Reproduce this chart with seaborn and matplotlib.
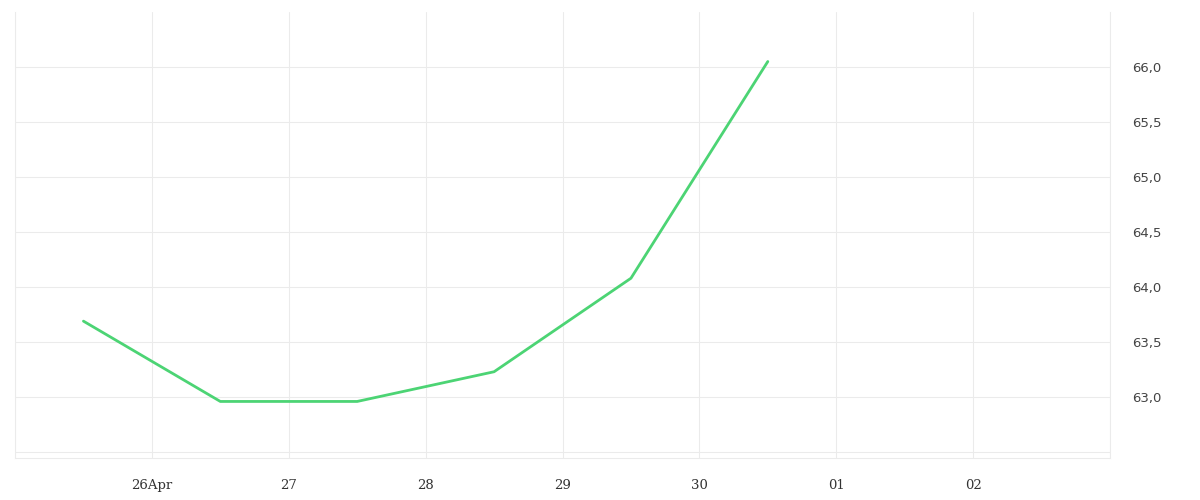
"""Линейный график значения по дням (конец апреля)."""

import pandas as pd
import matplotlib.pyplot as plt
import matplotlib.dates as mdates
from matplotlib.ticker import FixedLocator, FuncFormatter
import seaborn as sns


# ====== Данные ======
TIMES = ["2024-04-25 12:00", "2024-04-26 12:00", "2024-04-27 12:00",
         "2024-04-28 12:00", "2024-04-29 12:00", "2024-04-30 12:00"]
VALUES = [63.69, 62.96, 62.96, 63.23, 64.08, 66.05]

Y_TICKS = [62.5, 63.0, 63.5, 64.0, 64.5, 65.0, 65.5, 66.0]
LINE_COLOR = "#4cd474"
GRID_COLOR = "#ebebeb"


def x_label(value, pos):
    d = mdates.num2date(value)
    if d.day in (25, 3):
        return ""
    if d.day == 26:
        return "26Apr"
    return d.strftime("%d")


def y_label(value, pos):
    if value < 62.9:
        return ""
    return f"{value:.1f}".replace(".", ",")


def main():
    sns.set_theme(style="white")
    plt.rcParams["font.family"] = ["DejaVu Sans"]
    df = pd.DataFrame({"time": pd.to_datetime(TIMES), "value": VALUES})

    fig = plt.figure(figsize=(12, 5), dpi=100)
    ax = fig.add_axes([0.0125, 0.084, 0.9125, 0.892])

    sns.lineplot(data=df, x="time", y="value", ax=ax,
                 color=LINE_COLOR, linewidth=2)

    ax.set_xlim(pd.Timestamp("2024-04-25"), pd.Timestamp("2024-05-03"))
    ax.set_ylim(62.446, 66.5)

    ax.xaxis.set_major_locator(mdates.DayLocator())
    ax.xaxis.set_major_formatter(FuncFormatter(x_label))
    ax.yaxis.set_major_locator(FixedLocator(Y_TICKS))
    ax.yaxis.set_major_formatter(FuncFormatter(y_label))
    ax.yaxis.tick_right()

    ax.grid(True, color=GRID_COLOR, linewidth=0.75)
    ax.set_xlabel("")
    ax.set_ylabel("")

    for side in ["left", "right", "bottom"]:
        ax.spines[side].set_color(GRID_COLOR)
        ax.spines[side].set_linewidth(0.75)
    ax.spines["top"].set_visible(False)

    ax.tick_params(axis="x", length=8, width=0.75, color=GRID_COLOR,
                   pad=7, labelsize=9.5, labelcolor="#333333")
    ax.tick_params(axis="y", length=0, pad=16, labelsize=9.5,
                   labelcolor="#444444")

    # подписи дат — шрифт с засечками, значения — без засечек
    fig.canvas.draw()
    for lbl in ax.get_xticklabels():
        lbl.set_fontfamily("DejaVu Serif")
    for lbl in ax.get_yticklabels():
        lbl.set_fontfamily("DejaVu Sans")

    fig.savefig("out.png", dpi=100)


if __name__ == "__main__":
    main()
